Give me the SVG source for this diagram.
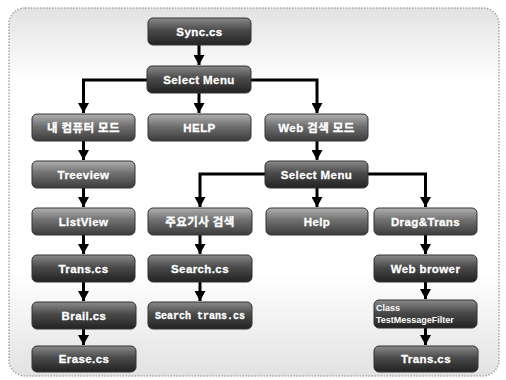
<svg xmlns="http://www.w3.org/2000/svg" width="506" height="380" viewBox="0 0 506 380">
<defs>
<linearGradient id="bg" x1="0" y1="0" x2="0" y2="1">
<stop offset="0" stop-color="#e2e2e2"/>
<stop offset="0.2" stop-color="#ffffff"/>
<stop offset="0.72" stop-color="#ffffff"/>
<stop offset="1" stop-color="#e2e2e2"/>
</linearGradient>
<linearGradient id="dark" x1="0" y1="0" x2="0" y2="1">
<stop offset="0" stop-color="#8a8a8a"/>
<stop offset="0.45" stop-color="#4a4a4a"/>
<stop offset="1" stop-color="#222222"/>
</linearGradient>
<linearGradient id="light" x1="0" y1="0" x2="0" y2="1">
<stop offset="0" stop-color="#b0b0b0"/>
<stop offset="0.45" stop-color="#707070"/>
<stop offset="1" stop-color="#3c3c3c"/>
</linearGradient>
<marker id="ah" markerUnits="userSpaceOnUse" markerWidth="12" markerHeight="11" refX="10" refY="5.5" orient="auto">
<path d="M0,0 L10,5.5 L0,11 z" fill="#000"/>
</marker>
</defs>
<style>
.box{stroke:#333;stroke-width:1}
.d{fill:url(#dark)}
.l{fill:url(#light)}
.t{fill:#fff;font-family:"Liberation Sans","Noto Sans CJK KR",sans-serif;font-weight:bold;font-size:11.5px;text-anchor:middle;letter-spacing:0.4px;stroke:#fff;stroke-width:0.3}
.s{fill:#fff;font-family:"Liberation Sans",sans-serif;font-weight:bold;font-size:9px}
.c{fill:none;stroke:#000;stroke-width:3;marker-end:url(#ah)}
</style>
<rect x="9" y="8" width="490" height="368" rx="16" fill="url(#bg)" stroke="#a8a8a8" stroke-width="1.5" stroke-dasharray="1.5 1.5"/>
<g id="connectors">
<path class="c" d="M199,45 V65"/>
<path class="c" d="M147,80 H83.5 V113"/>
<path class="c" d="M199,93 V113"/>
<path class="c" d="M251,80 H317 V113"/>
<path class="c" d="M317,141 V160"/>
<path class="c" d="M265,174 H200 V207"/>
<path class="c" d="M317,188 V207"/>
<path class="c" d="M368,174 H425.5 V207"/>
<path class="c" d="M83.5,141 V160"/>
<path class="c" d="M83.5,188 V207"/>
<path class="c" d="M83.5,235 V254"/>
<path class="c" d="M83.5,282 V301"/>
<path class="c" d="M83.5,329 V345"/>
<path class="c" d="M200,235 V254"/>
<path class="c" d="M200,282 V301"/>
<path class="c" d="M425.5,235 V254"/>
<path class="c" d="M425.5,282 V299"/>
<path class="c" d="M425.5,328 V345"/>
</g>
<g id="sync"><rect class="box d" x="148" y="18" width="103" height="27" rx="5"/><text class="t" x="199.5" y="35.5">Sync.cs</text></g>
<g id="select1"><rect class="box d" x="147" y="66" width="104" height="27" rx="5"/><text class="t" x="199" y="83.5">Select Menu</text></g>
<g id="mypc"><rect class="box l" x="32" y="114" width="103" height="27" rx="5"/><text class="t" x="83.5" y="131.5">내 컴퓨터 모드</text></g>
<g id="help1"><rect class="box l" x="148" y="114" width="103" height="27" rx="5"/><text class="t" x="199.5" y="131.5">HELP</text></g>
<g id="web"><rect class="box l" x="265" y="114" width="103" height="27" rx="5"/><text class="t" x="316.5" y="131.5">Web 검색 모드</text></g>
<g id="treeview"><rect class="box l" x="32" y="161" width="103" height="27" rx="5"/><text class="t" x="83.5" y="178.5">Treeview</text></g>
<g id="select2"><rect class="box d" x="265" y="161" width="103" height="27" rx="5"/><text class="t" x="316.5" y="178.5">Select Menu</text></g>
<g id="listview"><rect class="box l" x="32" y="208" width="103" height="27" rx="5"/><text class="t" x="83.5" y="225.5">ListView</text></g>
<g id="news"><rect class="box l" x="148" y="208" width="104" height="27" rx="5"/><text class="t" x="200" y="225.5">주요기사 검색</text></g>
<g id="help2"><rect class="box l" x="266" y="208" width="102" height="27" rx="5"/><text class="t" x="317" y="225.5">Help</text></g>
<g id="drag"><rect class="box l" x="374" y="208" width="103" height="27" rx="5"/><text class="t" x="425.5" y="225.5">Drag&amp;Trans</text></g>
<g id="trans1"><rect class="box d" x="32" y="255" width="103" height="27" rx="5"/><text class="t" x="83.5" y="272.5">Trans.cs</text></g>
<g id="search"><rect class="box d" x="148" y="255" width="104" height="27" rx="5"/><text class="t" x="200" y="272.5">Search.cs</text></g>
<g id="webbrower"><rect class="box d" x="374" y="255" width="103" height="27" rx="5"/><text class="t" x="425.5" y="272.5">Web brower</text></g>
<g id="brail"><rect class="box d" x="32" y="302" width="104" height="27" rx="5"/><text class="t" x="84" y="319.5">Brail.cs</text></g>
<g id="searchtrans"><rect class="box d" x="148" y="302" width="104" height="27" rx="5"/><text class="t" x="200" y="319" style="font-family:'Liberation Mono',monospace;font-size:10px;letter-spacing:0">Search trans.cs</text></g>
<g id="classfilter"><rect class="box d" x="374" y="300" width="103" height="28" rx="5"/><text class="s" x="376" y="311">Class</text><text class="s" x="376" y="323">TestMessageFilter</text></g>
<g id="erase"><rect class="box d" x="32" y="346" width="104" height="26" rx="5"/><text class="t" x="84" y="363">Erase.cs</text></g>
<g id="trans2"><rect class="box d" x="374" y="346" width="104" height="26" rx="5"/><text class="t" x="426" y="363">Trans.cs</text></g>
</svg>
